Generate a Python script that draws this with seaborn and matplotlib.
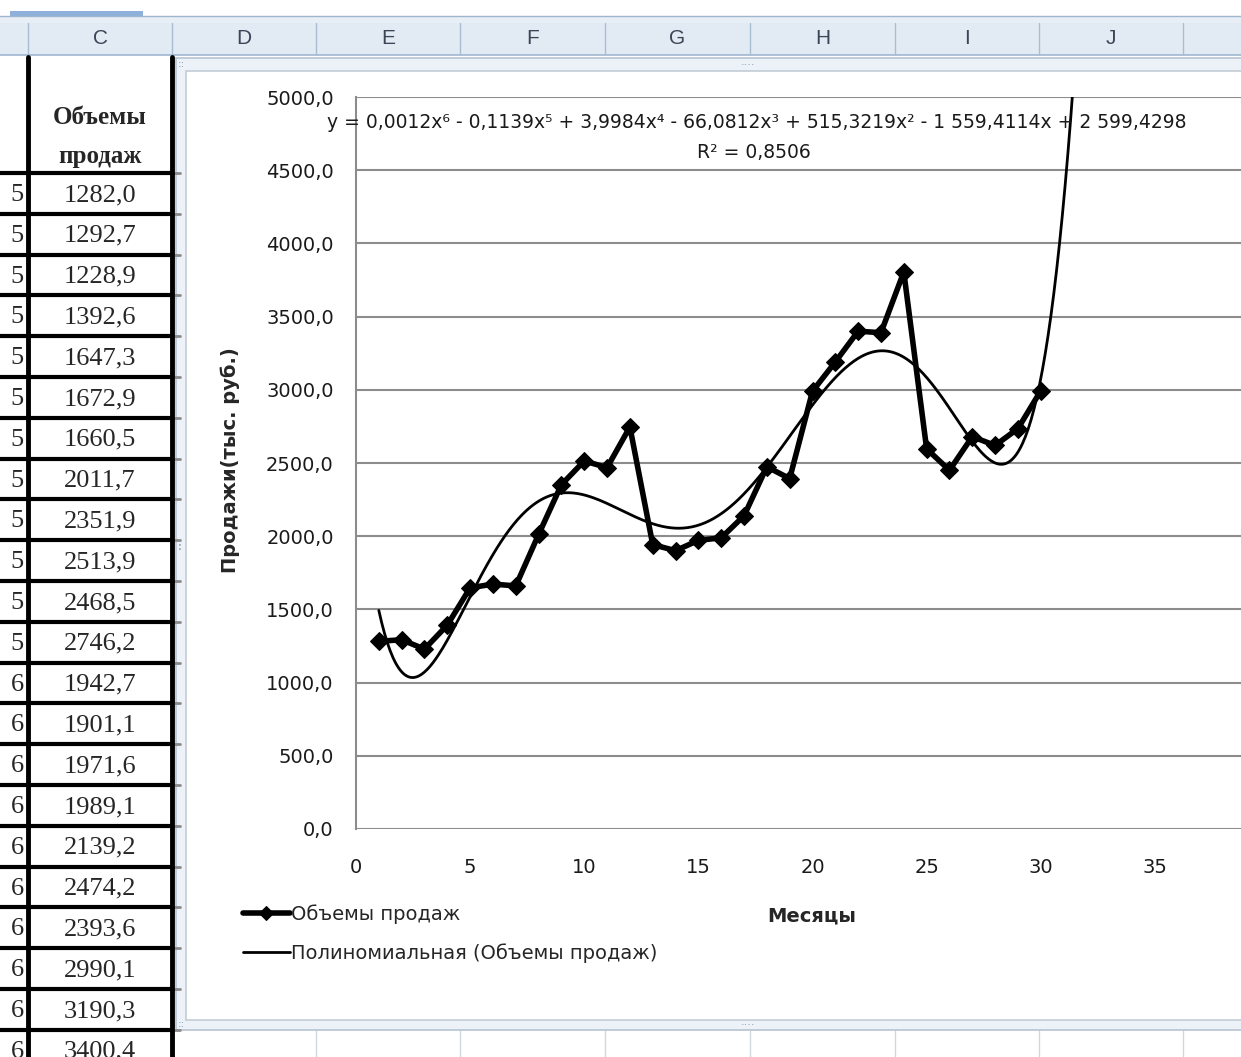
import numpy as np
import pandas as pd
import seaborn as sns
import matplotlib.pyplot as plt
from matplotlib.patches import Rectangle
from matplotlib.lines import Line2D

# данные: месяцы и объемы продаж (тыс. руб.)
months = list(range(1, 31))
sales = [1282.0, 1292.7, 1228.9, 1392.6, 1647.3, 1672.9, 1660.5, 2011.7, 2351.9, 2513.9,
         2468.5, 2746.2, 1942.7, 1901.1, 1971.6, 1989.1, 2139.2, 2474.2, 2393.6, 2990.1,
         3190.3, 3400.4, 3390.0, 3805.0, 2597.0, 2450.0, 2680.0, 2620.0, 2735.0, 2993.0]
year_digit = ['5'] * 12 + ['6'] * 18
col_letters = ['C', 'D', 'E', 'F', 'G', 'H', 'I', 'J']
col_edges = [28, 172, 316, 460, 605, 750, 895, 1039, 1183]

equation = ('y = 0,0012x⁶ - 0,1139x⁵ + 3,9984x⁴ - 66,0812x³ + 515,3219x² '
            '- 1 559,4114x + 2 599,4298')
r2_text = 'R² = 0,8506'

df = pd.DataFrame({'Месяц': months, 'Объемы продаж': sales})

# полиномиальный тренд 6-й степени (прогноз вперед на 2 периода)
coef = np.polyfit(df['Месяц'], df['Объемы продаж'], 6)
xs = np.linspace(1, 32, 500)
trend = pd.DataFrame({'x': xs, 'y': np.polyval(coef, xs)})

sns.set_style('white')
chart_font = ['DejaVu Sans']
plt.rcParams['font.family'] = chart_font

W, H = 1241, 1057
fig = plt.figure(figsize=(W / 100, H / 100), dpi=100)


def fx(x):
    return x / W


def fy(y):
    return 1 - y / H


def rect(x0, y0, x1, y1, **kw):
    fig.add_artist(Rectangle((fx(x0), fy(y1)), fx(x1) - fx(x0), fy(y0) - fy(y1),
                             transform=fig.transFigure, **kw))


def hline(x0, x1, y, **kw):
    fig.add_artist(Line2D([fx(x0), fx(x1)], [fy(y), fy(y)], transform=fig.transFigure, **kw))


def vline(x, y0, y1, **kw):
    fig.add_artist(Line2D([fx(x), fx(x)], [fy(y0), fy(y1)], transform=fig.transFigure, **kw))


# --- лист Excel: шапка столбцов ---
rect(0, 16, W, 23, facecolor='#e8eef6', edgecolor='none', zorder=-5)
rect(0, 23, W, 55, facecolor='#e2eaf4', edgecolor='none', zorder=-5)
rect(10, 11, 143, 16, facecolor='#8fb0da', edgecolor='none', zorder=-4)
hline(0, W, 16, color='#9fb6cf', lw=1, zorder=-4)
hline(0, W, 55, color='#9fb6cf', lw=1.2, zorder=-4)
for e in col_edges:
    vline(e, 23, 55, color='#a9bdd3', lw=1, zorder=-4)
    vline(e, 1030, H, color='#d0d7de', lw=1, zorder=-4)
for i, letter in enumerate(col_letters):
    fig.text(fx((col_edges[i] + col_edges[i + 1]) / 2), fy(39), letter, ha='center', va='center',
             fontsize=15, color='#3a4656', family=['Liberation Sans', 'DejaVu Sans'])

# --- таблица (столбец C) ---
serif = ['Liberation Serif', 'DejaVu Serif']
fig.text(fx(100), fy(117), 'Объемы', ha='center', va='center', fontsize=18,
         fontweight='bold', family=serif)
fig.text(fx(100), fy(157), 'продаж', ha='center', va='center', fontsize=18,
         fontweight='bold', family=serif)
row_h = 40.8
for k in range(23):
    y = 173 + row_h * k
    hline(0, 172, y, color='black', lw=3, zorder=2)
    hline(172, 180, y, color='#8a8a8a', lw=2, zorder=2)
for k in range(22):
    yc = 173 + row_h * k + 22
    fig.text(fx(100), fy(yc), f'{sales[k]:.1f}'.replace('.', ','), ha='center', va='center',
             fontsize=19, family=serif)
    fig.text(fx(24), fy(yc), year_digit[k], ha='right', va='center', fontsize=19, family=serif)
vline(28, 57, H, color='black', lw=3.5, zorder=2)
vline(172, 57, H, color='black', lw=3.5, zorder=2)

# --- рамка диаграммы ---
rect(176, 58, W + 5, 1030, facecolor='#edf2f8', edgecolor='#b7c4d3', lw=1.2, zorder=-3)
rect(186, 71, W + 5, 1020, facecolor='white', edgecolor='#c3ccd6', lw=1.2, zorder=-2)
fig.text(fx(181), fy(64), '::', fontsize=8, color='#8d9aab', ha='center', va='center')
fig.text(fx(181), fy(1024), '::', fontsize=8, color='#8d9aab', ha='center', va='center')
fig.text(fx(748), fy(65), '····', fontsize=8, color='#8d9aab', ha='center', va='center')
fig.text(fx(748), fy(1025), '····', fontsize=8, color='#8d9aab', ha='center', va='center')
fig.text(fx(180), fy(545), '⋮', fontsize=10, color='#8d9aab', ha='center', va='center')

# --- область построения ---
x_left, x_right, y_top, y_bot = 356, 1269, 97, 829
ax = fig.add_axes([fx(x_left), fy(y_bot), fx(x_right) - fx(x_left), fy(y_top) - fy(y_bot)])
ax.set_facecolor('none')

sns.lineplot(data=df, x='Месяц', y='Объемы продаж', ax=ax, color='black', lw=4,
             marker='D', markersize=9, markeredgecolor='black', label='Объемы продаж', zorder=4)
sns.lineplot(data=trend, x='x', y='y', ax=ax, color='black', lw=2,
             label='Полиномиальная (Объемы продаж)', zorder=3)

ax.set_xlim(0, 40)
ax.set_ylim(0, 5000)
ax.set_xticks(range(0, 40, 5))
ax.set_yticks(np.arange(0, 5001, 500))
ax.set_yticklabels([f'{v:.1f}'.replace('.', ',') for v in np.arange(0, 5001, 500)])
ax.tick_params(axis='both', length=0, labelsize=14, colors='#1a1a1a')
ax.tick_params(axis='x', pad=21)
ax.tick_params(axis='y', pad=16)
ax.grid(axis='y', color='#8c8c8c', lw=1.5)
ax.set_axisbelow(True)
for s in ['top', 'right', 'bottom']:
    ax.spines[s].set_visible(False)
ax.spines['left'].set_color('#8c8c8c')
ax.spines['left'].set_linewidth(1.5)
ax.set_xlabel('')
ax.set_ylabel('')

fig.text(fx(757), fy(122), equation, ha='center', va='center', fontsize=13.5,
         color='#1a1a1a')
fig.text(fx(754), fy(153), r2_text, ha='center', va='center', fontsize=13.5,
         color='#1a1a1a')

fig.text(fx(812), fy(916), 'Месяцы', ha='center', va='center', fontsize=14,
         fontweight='bold')
fig.text(fx(230), fy(460), 'Продажи(тыс. руб.)', ha='center', va='center', fontsize=14,
         fontweight='bold', rotation=90)

ax.legend(loc='upper left', bbox_to_anchor=(fx(243), fy(904)), bbox_transform=fig.transFigure,
          frameon=False, fontsize=14, handlelength=2.4, handletextpad=0.05,
          labelspacing=1.0, borderaxespad=0, borderpad=0, numpoints=1, markerscale=0.8)

fig.savefig('out.png', dpi=100)
